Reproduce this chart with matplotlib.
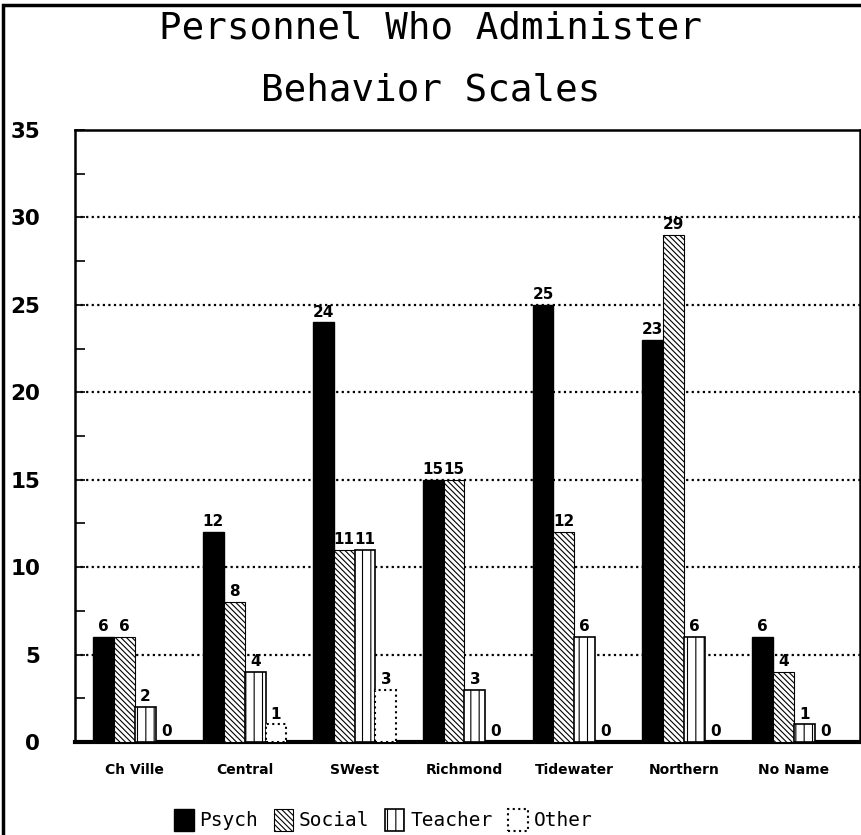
import matplotlib
matplotlib.use("Agg")
import matplotlib.pyplot as plt
import numpy as np
from matplotlib.patches import Rectangle

categories = ["Ch Ville", "Central", "SWest", "Richmond", "Tidewater", "Northern", "No Name"]
psych = [6, 12, 24, 15, 25, 23, 6]
social = [6, 8, 11, 15, 12, 29, 4]
teacher = [2, 4, 11, 3, 6, 6, 1]
other = [0, 1, 3, 0, 0, 0, 0]
series_names = ["Psych", "Social", "Teacher", "Other"]
yticks = [0, 5, 10, 15, 20, 25, 30, 35]

plt.rcParams['hatch.linewidth'] = 0.8

fig = plt.figure(figsize=(8.61, 8.35), dpi=100)
ax = fig.add_axes([0.0871, 0.1114, 0.9117, 0.7329])

x = np.arange(len(categories))
w = 0.19
styles = [
    dict(color="black", edgecolor="black"),
    dict(color="white", edgecolor="black", hatch="\\" * 6, linewidth=0.8),
    dict(color="white", edgecolor="black", hatch="||", linewidth=1.2),
    dict(color="white", edgecolor="black", linestyle=":", linewidth=1.5),
]
data = [psych, social, teacher, other]
containers = []
for k, (vals, st) in enumerate(zip(data, styles)):
    c = ax.bar(x + (k - 1.5) * w, vals, width=w, label=series_names[k], zorder=3, **st)
    containers.append(c)
    ax.bar_label(c, labels=[str(v) for v in vals], padding=2, fontsize=11,
                 fontweight="bold", zorder=4)

ax.set_xlim(-0.545, 6.6)
ax.set_ylim(0, 35)
ax.set_yticks(yticks)
ax.set_yticks(np.arange(2.5, 35, 5), minor=True)
ax.tick_params(axis="y", which="both", direction="in", length=7, width=1.2,
               labelsize=15.5, pad=25)
for lab in ax.get_yticklabels():
    lab.set_fontweight("bold")
ax.set_xticks(x)
ax.set_xticklabels(categories, fontsize=10, fontweight="bold")
ax.tick_params(axis="x", length=0, pad=15)

for yv in yticks[1:-1]:
    ax.axhline(yv, color="black", linestyle=(0, (1, 1.5)), linewidth=1.6, zorder=1)

for s in ["left", "top", "right"]:
    ax.spines[s].set_linewidth(1.8)
ax.spines["bottom"].set_linewidth(3)

fig.text(0.5, 0.966, "Personnel Who Administer", ha="center", va="center",
         fontsize=27, family="DejaVu Sans Mono")
fig.text(0.5, 0.892, "Behavior Scales", ha="center", va="center",
         fontsize=27, family="DejaVu Sans Mono")

leg = fig.legend(handles=containers, labels=series_names, loc="center",
                 bbox_to_anchor=(0.445, 0.018), ncol=4, frameon=False,
                 prop=dict(family="DejaVu Sans Mono", size=14),
                 handlelength=1.0, handleheight=1.3, handletextpad=0.3,
                 columnspacing=0.8)

fig.add_artist(Rectangle((0.004, -0.01), 1.0, 1.004, transform=fig.transFigure,
                         fill=False, edgecolor="black", linewidth=2.5))

fig.savefig("out.png", dpi=100)
